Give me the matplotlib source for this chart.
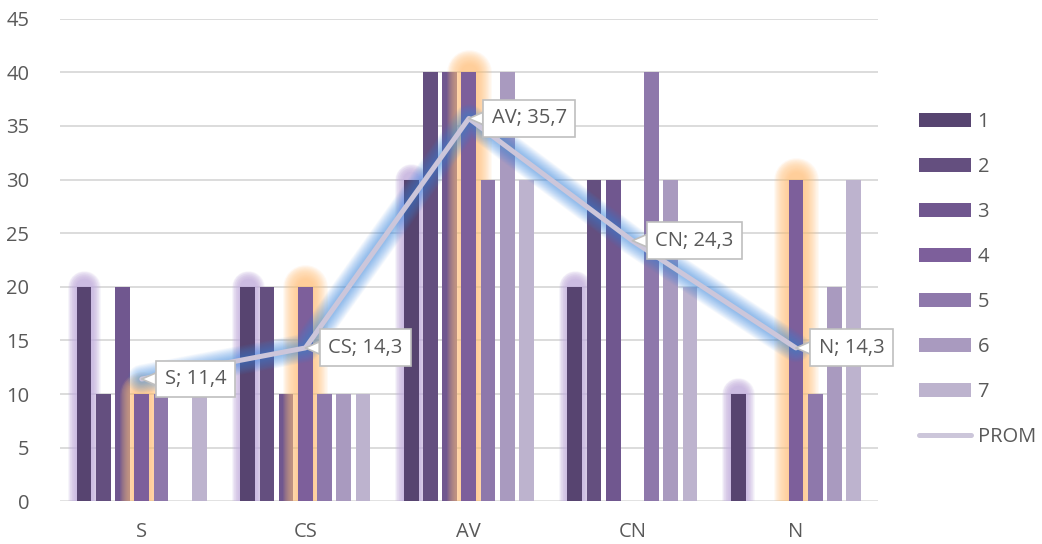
import matplotlib
matplotlib.use("Agg")
import matplotlib.pyplot as plt
from matplotlib.patches import Patch
from matplotlib.lines import Line2D
import numpy as np

categories = ["S", "CS", "AV", "CN", "N"]
series_names = ["1", "2", "3", "4", "5", "6", "7"]
s1 = [20, 20, 30, 20, 10]
s2 = [10, 20, 40, 30, 0]
s3 = [20, 10, 40, 30, 0]
s4 = [10, 20, 40, 0, 30]
s5 = [10, 10, 30, 40, 10]
s6 = [0, 10, 40, 30, 20]
s7 = [10, 10, 30, 20, 30]
series = [s1, s2, s3, s4, s5, s6, s7]
prom = [11.4, 14.3, 35.7, 24.3, 14.3]
prom_labels = ["11,4", "14,3", "35,7", "24,3", "14,3"]
y_ticks = [0, 5, 10, 15, 20, 25, 30, 35, 40, 45]

colors = ["#574470", "#644F7F", "#70578F", "#7D5F9B", "#8E78AB", "#A99ABF", "#BDB3CE"]
prom_color = "#CCC6DA"
text_color = "#595959"

plt.rcParams["font.family"] = ["Open Sans", "DejaVu Sans"]

DPI = 100
fig = plt.figure(figsize=(10.42, 5.44), dpi=DPI)
ax = fig.add_axes([60 / 1042, (544 - 501.3) / 544, (877.7 - 60) / 1042, (501.3 - 18.7) / 544])
ax.set_xlim(-0.5, 4.5)
ax.set_ylim(0, 45)

px = 72.0 / DPI  # points per pixel
FS = 14.5

x = np.arange(len(categories))
step = 0.1175
width = 0.09
bar_w_px = width * (877.7 - 60) / 5

# gridlines
for t in y_ticks[1:]:
    ax.axhline(t, color="#D9D9D9", lw=1.3, zorder=0)
ax.axhline(0, color="#D9D9D9", lw=1.8, zorder=0)


def glow(xc, h, color, ext_px, z, layers=14, alpha=0.10):
    for k in range(layers, 0, -1):
        lw = (bar_w_px + 2 * ext_px * k / layers) * px
        ax.plot([xc, xc], [0, h], color=color, lw=lw, alpha=alpha,
                solid_capstyle="round", zorder=z)


for i, vals in enumerate(series):
    xs = x + (i - 3) * step
    z = 2 + i * 0.1
    for xc, h in zip(xs, vals):
        if h <= 0:
            continue
        if i == 0:
            glow(xc, h, "#C3AEDE", 9, z)
        elif i == 3:
            glow(xc, h, "#FFC27A", 15, z, alpha=0.09)
    ax.bar(xs, vals, width=width, color=colors[i], zorder=z + 0.05)

# average line with soft blue glow
n_layers = 20
for k in range(n_layers, 0, -1):
    ax.plot(x, prom, color="#3A8CE3", lw=(5 + 24 * k / n_layers) * px, alpha=0.036,
            solid_capstyle="round", solid_joinstyle="round", zorder=5)
ax.plot(x, prom, color=prom_color, lw=5 * px, zorder=6,
        solid_joinstyle="round", solid_capstyle="round")

for xi, v, lab, cat in zip(x, prom, prom_labels, categories):
    ax.annotate(f"{cat}; {lab}", xy=(xi, v), xytext=(23 * px, 0),
                textcoords="offset points", ha="left", va="center",
                fontsize=FS, color=text_color, zorder=8,
                bbox=dict(boxstyle="square,pad=0.42", fc="white", ec="#BFBFBF", lw=1.2),
                arrowprops=dict(arrowstyle="wedge,tail_width=0.6,shrink_factor=0.5",
                                fc="white", ec="#BFBFBF", lw=1.2, shrinkA=0, shrinkB=0))

ax.set_xticks(x)
ax.set_xticklabels(categories)
ax.set_yticks(y_ticks)
ax.tick_params(axis="both", length=0, labelsize=FS, colors=text_color)
ax.tick_params(axis="x", pad=15)
ax.tick_params(axis="y", pad=22)
for sp in ax.spines.values():
    sp.set_visible(False)

handles = [Patch(facecolor=c, edgecolor="none") for c in colors]
handles.append(Line2D([0], [0], color=prom_color, lw=5 * px, solid_capstyle="round"))
leg = fig.legend(handles, series_names + ["PROM"], loc="upper left",
                 bbox_to_anchor=(901 / 1042, 1 - 94 / 544), frameon=False,
                 fontsize=FS, labelcolor=text_color, handlelength=2.6,
                 handleheight=0.75, handletextpad=0.3, labelspacing=1.24)

fig.savefig("out.png", dpi=DPI)
